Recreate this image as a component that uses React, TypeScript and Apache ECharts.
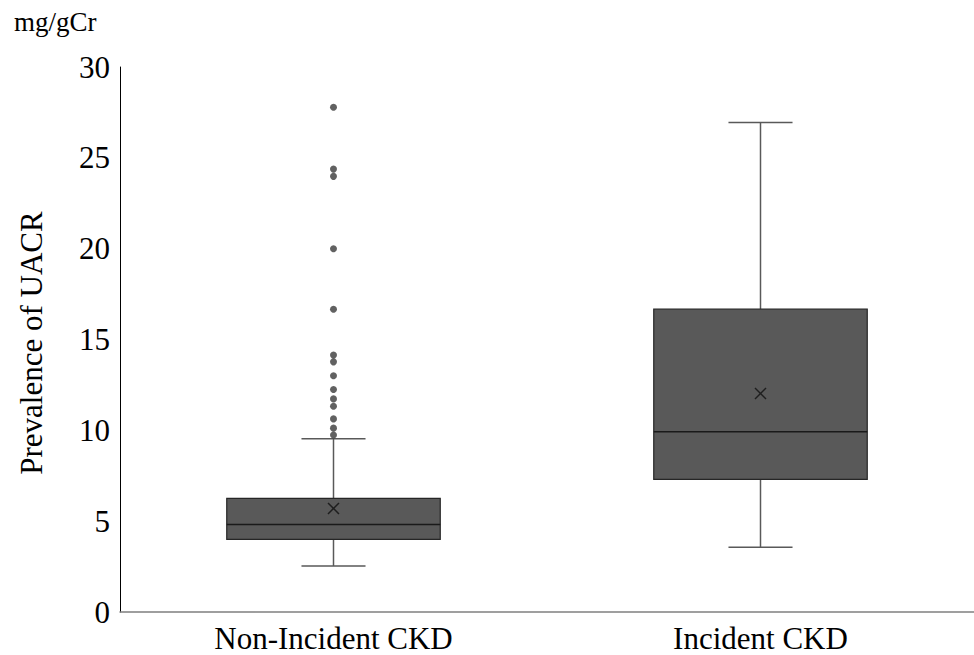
import React, { useEffect, useRef } from "react";
import * as echarts from "echarts";

const categories = ["Non-Incident CKD", "Incident CKD"];
// [low whisker, Q1, median, Q3, high whisker, mean]
const boxStats = [
  [2.53, 4.0, 4.82, 6.25, 9.53, 5.7],
  [3.56, 7.3, 9.92, 16.67, 26.94, 12.03],
];
const outliersNonIncident = [27.78, 24.38, 23.98, 20.0, 16.67, 14.14, 13.77, 13.0, 12.25, 11.73, 11.33, 10.63, 10.12, 9.74];
const yTicks = { min: 0, max: 30, interval: 5 };

const FONT = "'Liberation Serif', 'Times New Roman', serif";

export default function App() {
  const ref = useRef<HTMLDivElement>(null);
  useEffect(() => {
    if (!ref.current) return;
    const chart = echarts.init(ref.current, null, { renderer: "svg" });
    const boxData = boxStats.map((s, i) => [i, ...s]);
    const outlierData = outliersNonIncident.map((v) => [0, v]);
    chart.setOption({
      animation: false,
      backgroundColor: "#ffffff",
      grid: { left: 120, right: 0, top: 67, bottom: 43, containLabel: false },
      xAxis: {
        type: "category",
        data: categories,
        boundaryGap: true,
        axisLine: { show: true, lineStyle: { color: "#7f7f7f", width: 1.5 } },
        axisTick: { show: false },
        axisLabel: { fontFamily: FONT, fontSize: 31, lineHeight: 28, color: "#000", margin: 12 },
        splitLine: { show: false },
      },
      yAxis: {
        type: "value",
        min: yTicks.min,
        max: yTicks.max,
        interval: yTicks.interval,
        axisLine: { show: true, lineStyle: { color: "#000", width: 1 } },
        axisTick: { show: false },
        axisLabel: { fontFamily: FONT, fontSize: 31, color: "#000", margin: 10 },
        splitLine: { show: false },
      },
      graphic: [
        {
          type: "text",
          left: 14,
          top: 8,
          style: { text: "mg/gCr", fontFamily: FONT, fontSize: 27, fill: "#000" },
        },
        {
          type: "text",
          x: 31,
          y: 343,
          rotation: Math.PI / 2,
          style: {
            text: "Prevalence of UACR",
            fontFamily: FONT,
            fontSize: 31,
            fill: "#000",
            align: "center",
            verticalAlign: "middle",
          },
        },
      ],
      series: [
        {
          type: "custom",
          data: boxData,
          encode: { x: 0, y: [1, 2, 3, 4, 5, 6] },
          renderItem: (params: any, api: any) => {
            const c = api.value(0);
            const low = api.coord([c, api.value(1)]);
            const q1 = api.coord([c, api.value(2)]);
            const med = api.coord([c, api.value(3)]);
            const q3 = api.coord([c, api.value(4)]);
            const high = api.coord([c, api.value(5)]);
            const mean = api.coord([c, api.value(6)]);
            const band = api.size([1, 0])[0];
            const cx = low[0];
            const hb = band * 0.25;
            const hc = band * 0.075;
            const m = 5.5;
            const wStyle = { stroke: "#595959", lineWidth: 1.5 };
            return {
              type: "group",
              children: [
                { type: "line", shape: { x1: cx, y1: low[1], x2: cx, y2: q1[1] }, style: wStyle },
                { type: "line", shape: { x1: cx, y1: q3[1], x2: cx, y2: high[1] }, style: wStyle },
                { type: "line", shape: { x1: cx - hc, y1: low[1], x2: cx + hc, y2: low[1] }, style: wStyle },
                { type: "line", shape: { x1: cx - hc, y1: high[1], x2: cx + hc, y2: high[1] }, style: wStyle },
                {
                  type: "rect",
                  shape: { x: cx - hb, y: q3[1], width: hb * 2, height: q1[1] - q3[1] },
                  style: { fill: "#595959", stroke: "#262626", lineWidth: 1.2 },
                },
                { type: "line", shape: { x1: cx - hb, y1: med[1], x2: cx + hb, y2: med[1] }, style: { stroke: "#1a1a1a", lineWidth: 1.5 } },
                { type: "line", shape: { x1: cx - m, y1: mean[1] - m, x2: cx + m, y2: mean[1] + m }, style: { stroke: "#1e1e1e", lineWidth: 1.5 } },
                { type: "line", shape: { x1: cx - m, y1: mean[1] + m, x2: cx + m, y2: mean[1] - m }, style: { stroke: "#1e1e1e", lineWidth: 1.5 } },
              ],
            };
          },
          z: 2,
        },
        {
          type: "scatter",
          data: outlierData,
          symbol: "circle",
          symbolSize: 7,
          itemStyle: { color: "#3a3a3a" },
          z: 3,
        },
      ],
    });
    return () => chart.dispose();
  }, []);
  return <div ref={ref} style={{ position: "fixed", left: 0, top: 0, width: 974, height: 655 }} />;
}
